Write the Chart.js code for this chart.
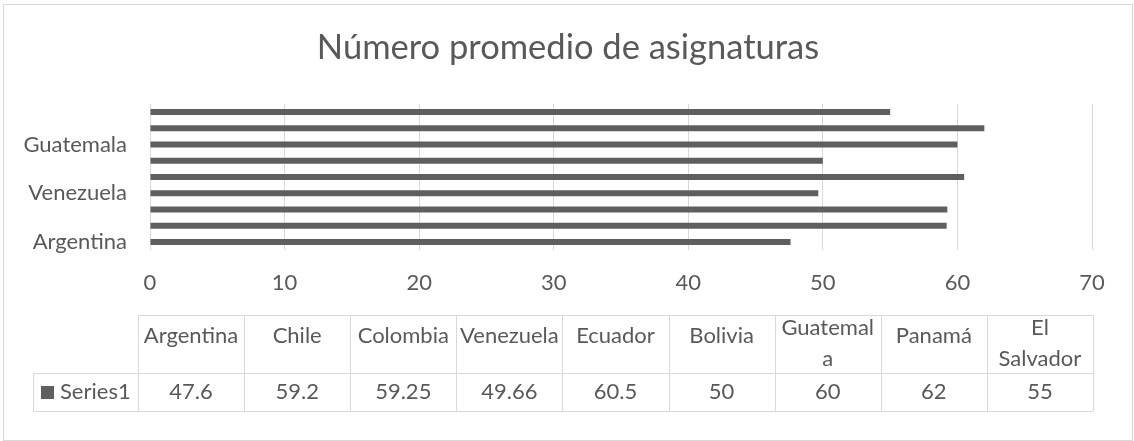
<!DOCTYPE html>
<html>
<head>
<meta charset="utf-8">
<script src="https://cdn.jsdelivr.net/npm/chart.js@4.4.1/dist/chart.umd.min.js"></script>
<style>
  html, body { margin: 0; padding: 0; background: #fff; }
  #wrap { position: relative; width: 1134px; height: 441px; }
</style>
</head>
<body>
<div id="wrap"><canvas id="chart"></canvas></div>
<script>
const chartTitle = 'Número promedio de asignaturas';
const seriesName = 'Series1';
const categories = ['Argentina', 'Chile', 'Colombia', 'Venezuela', 'Ecuador', 'Bolivia', 'Guatemala', 'Panamá', 'El Salvador'];
const values = [47.6, 59.2, 59.25, 49.66, 60.5, 50, 60, 62, 55];
const valueLabels = ['47.6', '59.2', '59.25', '49.66', '60.5', '50', '60', '62', '55'];
// header text of the data table, wrapped as in the picture
const headerLines = [['Argentina'], ['Chile'], ['Colombia'], ['Venezuela'], ['Ecuador'], ['Bolivia'], ['Guatemal', 'a'], ['Panamá'], ['El', 'Salvador']];
const xMin = 0;
const xMax = 70;
const xStep = 10;

const FONT = 'Lato, "Open Sans", sans-serif';
const TEXT = '#595959';
const LINE = '#d9d9d9';
const BAR = '#5f5f5f';

// title centred on the whole picture, data table below the plot, outer border
const dataTable = {
  id: 'dataTable',
  afterDraw(chart) {
    const ctx = chart.ctx;
    const left = 138, right = 1093;
    const keyLeft = 33;
    const top = 315, mid = 373, bottom = 411;
    const colW = (right - left) / categories.length;

    ctx.save();
    ctx.fillStyle = TEXT;
    ctx.font = '34.5px ' + FONT;
    ctx.textAlign = 'center';
    ctx.textBaseline = 'middle';
    ctx.fillText(chartTitle, chart.width / 2 + 1, 48);

    ctx.strokeStyle = LINE;
    ctx.lineWidth = 1;
    ctx.beginPath();
    // horizontal lines
    ctx.moveTo(left, top + 0.5); ctx.lineTo(right, top + 0.5);
    ctx.moveTo(keyLeft, mid + 0.5); ctx.lineTo(right, mid + 0.5);
    ctx.moveTo(keyLeft, bottom + 0.5); ctx.lineTo(right, bottom + 0.5);
    // vertical lines
    ctx.moveTo(keyLeft + 0.5, mid); ctx.lineTo(keyLeft + 0.5, bottom);
    for (let i = 0; i <= categories.length; i++) {
      const x = Math.round(left + i * colW) + 0.5;
      ctx.moveTo(x, top); ctx.lineTo(x, bottom);
    }
    ctx.stroke();

    ctx.font = '22px ' + FONT;
    categories.forEach((c, i) => {
      const cx = left + (i + 0.5) * colW;
      const lines = headerLines[i];
      if (lines.length === 1) {
        ctx.fillText(lines[0], cx, top + 21);
      } else {
        ctx.fillText(lines[0], cx, top + 13);
        ctx.fillText(lines[1], cx, top + 44);
      }
      ctx.fillText(valueLabels[i], cx, mid + 19);
    });

    // legend key
    ctx.fillStyle = BAR;
    ctx.fillRect(41, 386, 13, 13);
    ctx.fillStyle = TEXT;
    ctx.textAlign = 'left';
    ctx.fillText(seriesName, 60, mid + 19);

    // chart border
    ctx.strokeStyle = LINE;
    ctx.strokeRect(3.5, 4.5, 1129, 436);
    ctx.restore();
  }
};

new Chart(document.getElementById('chart'), {
  type: 'bar',
  data: {
    labels: categories,
    datasets: [{
      label: seriesName,
      data: values,
      backgroundColor: BAR,
      borderWidth: 0,
      categoryPercentage: 1,
      barPercentage: 0.37,
    }],
  },
  options: {
    indexAxis: 'y',
    responsive: true,
    maintainAspectRatio: false,
    animation: false,
    layout: { padding: { top: 104, left: 0, right: 42, bottom: 141 } },
    plugins: {
      legend: { display: false },
      tooltip: { enabled: false },
      title: { display: false },
    },
    scales: {
      x: {
        min: xMin,
        max: xMax,
        afterFit: (s) => { s.height = 50; },
        ticks: {
          stepSize: xStep,
          color: TEXT,
          font: { family: FONT, size: 22 },
          padding: 20,
        },
        grid: { color: LINE, drawTicks: false, lineWidth: 1 },
        border: { display: false },
      },
      y: {
        reverse: true,
        afterFit: (s) => { s.width = 150; },
        ticks: {
          autoSkip: false,
          color: TEXT,
          font: { family: FONT, size: 22 },
          padding: 23,
          callback: (v, i) => (i % 3 === 0 ? categories[i] : ''),
        },
        grid: { display: false, drawTicks: false },
        border: { display: false },
      },
    },
  },
  plugins: [dataTable],
});
</script>
</body>
</html>
